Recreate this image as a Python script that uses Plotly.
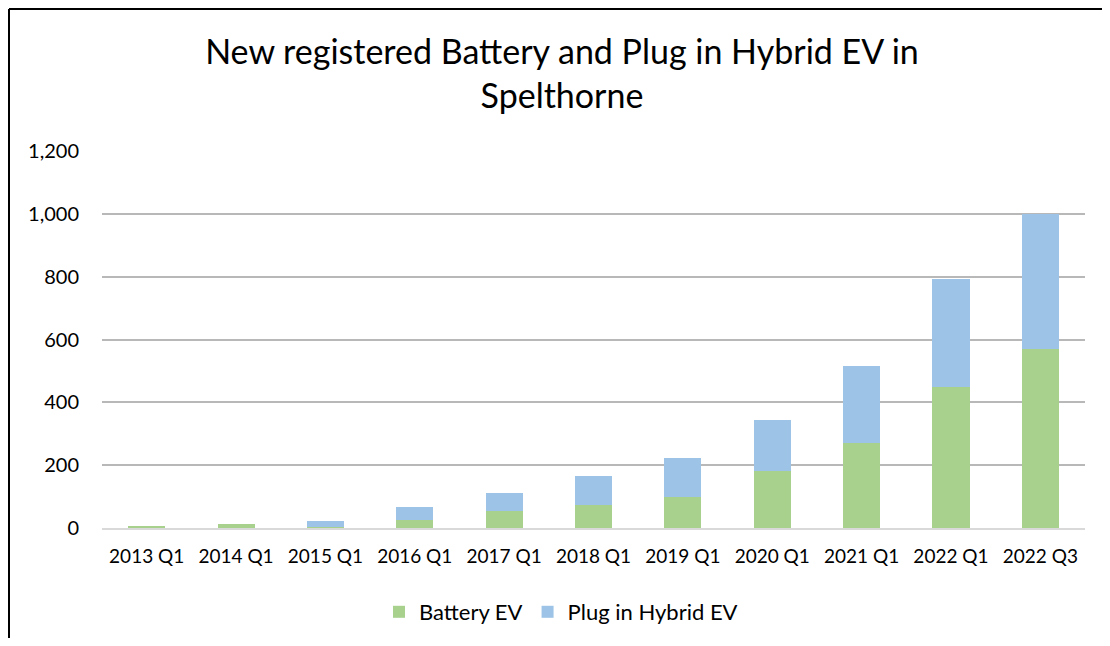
import plotly.graph_objects as go

categories = ["2013 Q1", "2014 Q1", "2015 Q1", "2016 Q1", "2017 Q1", "2018 Q1",
              "2019 Q1", "2020 Q1", "2021 Q1", "2022 Q1", "2022 Q3"]
battery_ev = [7, 12, 4, 26, 54, 73, 99, 181, 271, 449, 570]
plugin_hybrid_ev = [0, 0, 18, 41, 57, 93, 124, 163, 245, 344, 430]

OFF = 8  # page body margin
W, H = 1110 - 2 * OFF, 646 - 2 * OFF
# reference pixel positions (full-window coordinates)
L_ref, R_ref, T_ref, B_ref = 102, 1085, 151, 528
L, T = L_ref - OFF, T_ref - OFF
R = W - (R_ref - OFF)
B = H - (B_ref - OFF)
pw, ph = W - L - R, H - T - B

def px_x(p):
    return (p - OFF - L) / pw

def px_y(p):
    return (H - B - (p - OFF)) / ph

font = "Lato, 'Open Sans', sans-serif"

fig = go.Figure()
fig.add_trace(go.Bar(name="Battery EV", x=categories, y=battery_ev,
                     marker=dict(color="#A9D18E", line=dict(width=0))))
fig.add_trace(go.Bar(name="Plug in Hybrid EV", x=categories, y=plugin_hybrid_ev,
                     marker=dict(color="#9DC3E6", line=dict(width=0))))

fig.update_layout(
    width=W, height=H,
    barmode="stack", bargap=0.585,
    paper_bgcolor="white", plot_bgcolor="white",
    margin=dict(l=L, r=R, t=T, b=B, autoexpand=False),
    font=dict(family=font, size=19, color="#000000"),
    title=dict(text="New registered Battery and Plug in Hybrid EV in<br>Spelthorne",
               x=px_x(562), xref="paper", xanchor="center",
               y=1 - (64 - OFF) / H, yanchor="middle",
               font=dict(size=34, family=font, color="#000000")),
    legend=dict(orientation="h", x=px_x(561), xref="paper", xanchor="center",
                y=px_y(612), yanchor="middle", font=dict(size=22),
                itemwidth=30, traceorder="normal"),
    showlegend=True,
)
fig.update_xaxes(showline=True, linecolor="#D9D9D9", linewidth=1.5,
                 ticks="", tickfont=dict(size=19), showgrid=False,
                 ticklabelstandoff=10)
fig.update_yaxes(range=[0, 1200], dtick=200, tickformat=",d", showgrid=True,
                 gridcolor="#B8B8B8", gridwidth=1.5, zeroline=False,
                 ticks="", tickfont=dict(size=20), ticklabelstandoff=22)

# chart border (top and left edges visible)
bx, by = OFF + 1, OFF + 1
fig.add_shape(type="line", xref="paper", yref="paper",
              x0=px_x(bx), x1=px_x(1110 - OFF), y0=px_y(by), y1=px_y(by),
              line=dict(color="black", width=2))
fig.add_shape(type="line", xref="paper", yref="paper",
              x0=px_x(bx), x1=px_x(bx), y0=px_y(by), y1=px_y(646 - OFF),
              line=dict(color="black", width=2))

fig.write_html("out.html")
